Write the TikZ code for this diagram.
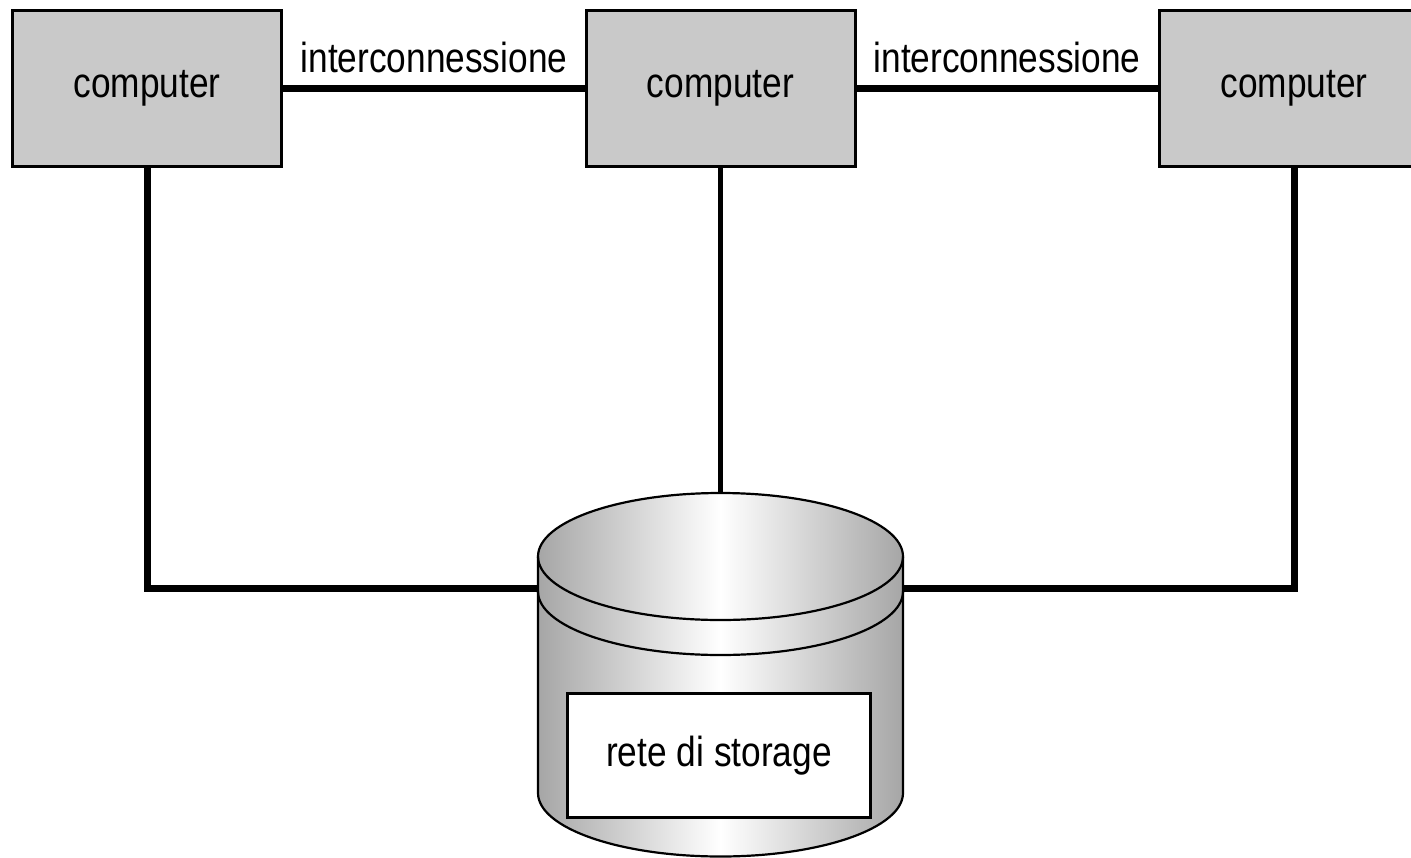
\documentclass[tikz,border=0pt]{standalone}
\usepackage{fontspec}
\setmainfont{Liberation Sans}
\usepackage{graphicx}
\definecolor{boxgray}{RGB}{201,201,201}
\definecolor{cylgray}{RGB}{166,166,166}
\newcommand\lblfont{\fontsize{42}{48}\selectfont}
\newcommand\narrowtxt[1]{\scalebox{0.84}[1]{#1}}
\begin{document}
\begin{tikzpicture}[x=1pt,y=-1pt,
  comp/.style={draw=black, line width=3pt, fill=boxgray, minimum width=269pt, minimum height=156pt, inner sep=0pt, font=\lblfont},
  wire/.style={line width=7pt},
  midwire/.style={line width=5pt},
  lbl/.style={font=\lblfont, inner sep=0pt, anchor=base},
  cylline/.style={line width=2.2pt}
]
\useasboundingbox (0,0) rectangle (1411,857);
\clip (0,0) rectangle (1411,857);
% cylinder
\path[left color=cylgray, right color=cylgray, middle color=white]
  (538,556.5) -- (538,793) arc[start angle=180,end angle=0,x radius=182.5,y radius=63.5]
  -- (903,556.5) arc[start angle=0,end angle=-180,x radius=182.5,y radius=63.5] -- cycle;
\draw[cylline]
  (538,556.5) -- (538,793) arc[start angle=180,end angle=0,x radius=182.5,y radius=63.5]
  -- (903,556.5) arc[start angle=0,end angle=-180,x radius=182.5,y radius=63.5] -- cycle;
\draw[cylline] (538,556.5) arc[start angle=180,end angle=0,x radius=182.5,y radius=63.5];
\draw[cylline] (538,591.5) arc[start angle=180,end angle=0,x radius=182.5,y radius=63.5];
\node[draw, fill=white, line width=3pt, minimum width=303pt, minimum height=124pt, font=\lblfont] (sto) at (719,755.5) {\narrowtxt{rete di storage}};
% computers
\node[comp] (c1) at (147,88.5) {\narrowtxt{computer}};
\node[comp] (c2) at (720.5,88.5) {\narrowtxt{computer}};
\node[comp] (c3) at (1294,88.5) {\narrowtxt{computer}};
% connection points on cylinder
\coordinate (cylT) at (720.5,493);
\coordinate (cylL) at (538,588);
\coordinate (cylR) at (903,588);
% wires
\draw[wire] (c1.east) -- (c2.west);
\draw[wire] (c2.east) -- (c3.west);
\node[lbl] (l1) at (434,72) {\narrowtxt{interconnessione}};
\node[lbl] (l2) at (1007,72) {\narrowtxt{interconnessione}};
\draw[wire] (c1.south) |- (cylL);
\draw[wire] (c3.south) |- (cylR);
\draw[midwire] (c2.south) -- (cylT);
\end{tikzpicture}
\end{document}
